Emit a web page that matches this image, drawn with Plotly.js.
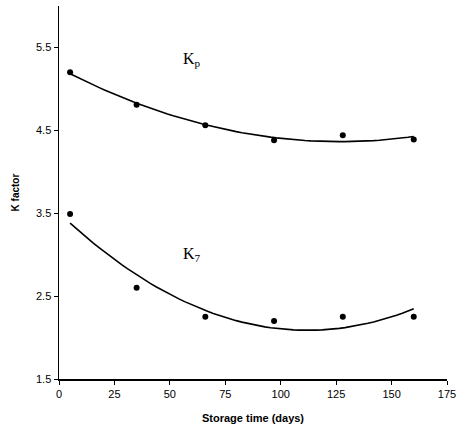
<!DOCTYPE html>
<html><head><meta charset="utf-8">
<script src="https://cdn.plot.ly/plotly-3.0.1.min.js"></script>
<style>body{margin:0;background:#fff}#c{width:457px;height:433px}</style>
</head><body><div id="c"></div>
<script>
const days = [5, 35, 66, 97, 128, 160];
const kp = [5.20, 4.81, 4.56, 4.38, 4.44, 4.39];
const k7 = [3.49, 2.60, 2.25, 2.20, 2.25, 2.25];
const yTicks = [1.5, 2.5, 3.5, 4.5, 5.5];
const xTicks = [0, 25, 50, 75, 100, 125, 150, 175];

function quadFit(x, y) {
  let S = [0,0,0,0,0], T = [0,0,0];
  for (let i = 0; i < x.length; i++) {
    let p = 1;
    for (let k = 0; k < 5; k++) { S[k] += p; if (k < 3) T[k] += p * y[i]; p *= x[i]; }
  }
  const A = [[S[0],S[1],S[2],T[0]],[S[1],S[2],S[3],T[1]],[S[2],S[3],S[4],T[2]]];
  for (let i = 0; i < 3; i++) {
    for (let j = i+1; j < 3; j++) {
      const f = A[j][i]/A[i][i];
      for (let k = i; k < 4; k++) A[j][k] -= f*A[i][k];
    }
  }
  const c = [0,0,0];
  for (let i = 2; i >= 0; i--) {
    let s = A[i][3];
    for (let k = i+1; k < 3; k++) s -= A[i][k]*c[k];
    c[i] = s/A[i][i];
  }
  return c;
}
function curve(x, y) {
  const c = quadFit(x, y);
  const xs = [], ys = [];
  const x0 = x[0], x1 = x[x.length-1];
  for (let i = 0; i <= 60; i++) {
    const t = x0 + (x1 - x0) * i / 60;
    xs.push(t); ys.push(c[0] + c[1]*t + c[2]*t*t);
  }
  return {xs, ys};
}
const cp = curve(days, kp), c7 = curve(days, k7);
const mk = {color:'#000', size:6};
const data = [
  {x: cp.xs, y: cp.ys, mode:'lines', line:{color:'#000', width:1.6}, hoverinfo:'skip'},
  {x: c7.xs, y: c7.ys, mode:'lines', line:{color:'#000', width:1.6}, hoverinfo:'skip'},
  {x: days, y: kp, mode:'markers', marker:mk},
  {x: days, y: k7, mode:'markers', marker:mk}
];
const tf = {family:'Liberation Sans Narrow, Arial Narrow, Liberation Sans, sans-serif', size:11, color:'#000'};
const layout = {
  width:457, height:433, showlegend:false,
  margin:{l:59, r:10, t:6, b:54},
  paper_bgcolor:'#fff', plot_bgcolor:'#fff',
  xaxis:{range:[0,175], tickvals:xTicks, ticktext:xTicks.map(String), showgrid:false, zeroline:false,
    showline:true, linecolor:'#000', linewidth:1.5, ticks:'outside', ticklen:4, tickcolor:'#000',
    tickfont:tf,
    title:{text:'<b>Storage time (days)</b>', font:{family:'Liberation Sans Narrow, Liberation Sans, sans-serif', size:11, color:'#000'}, standoff:15}},
  yaxis:{range:[1.5,6.0], tickvals:yTicks, ticktext:yTicks.map(v=>v.toFixed(1)), showgrid:false, zeroline:false,
    showline:true, linecolor:'#000', linewidth:1.5, ticks:'outside', ticklen:4, tickcolor:'#000',
    tickfont:tf,
    title:{text:'<b>K factor</b>', font:{family:'Liberation Sans Narrow, Liberation Sans, sans-serif', size:10, color:'#000'}, standoff:14}},
  annotations:[
    {x:60, y:5.35, xref:'x', yref:'y', text:'K<sub>p</sub>', showarrow:false, font:{family:'Liberation Serif, serif', size:16, color:'#000'}},
    {x:60, y:3.0, xref:'x', yref:'y', text:'K<sub>7</sub>', showarrow:false, font:{family:'Liberation Serif, serif', size:16, color:'#000'}}
  ]
};
Plotly.newPlot('c', data, layout, {displayModeBar:false, staticPlot:true});
</script></body></html>
